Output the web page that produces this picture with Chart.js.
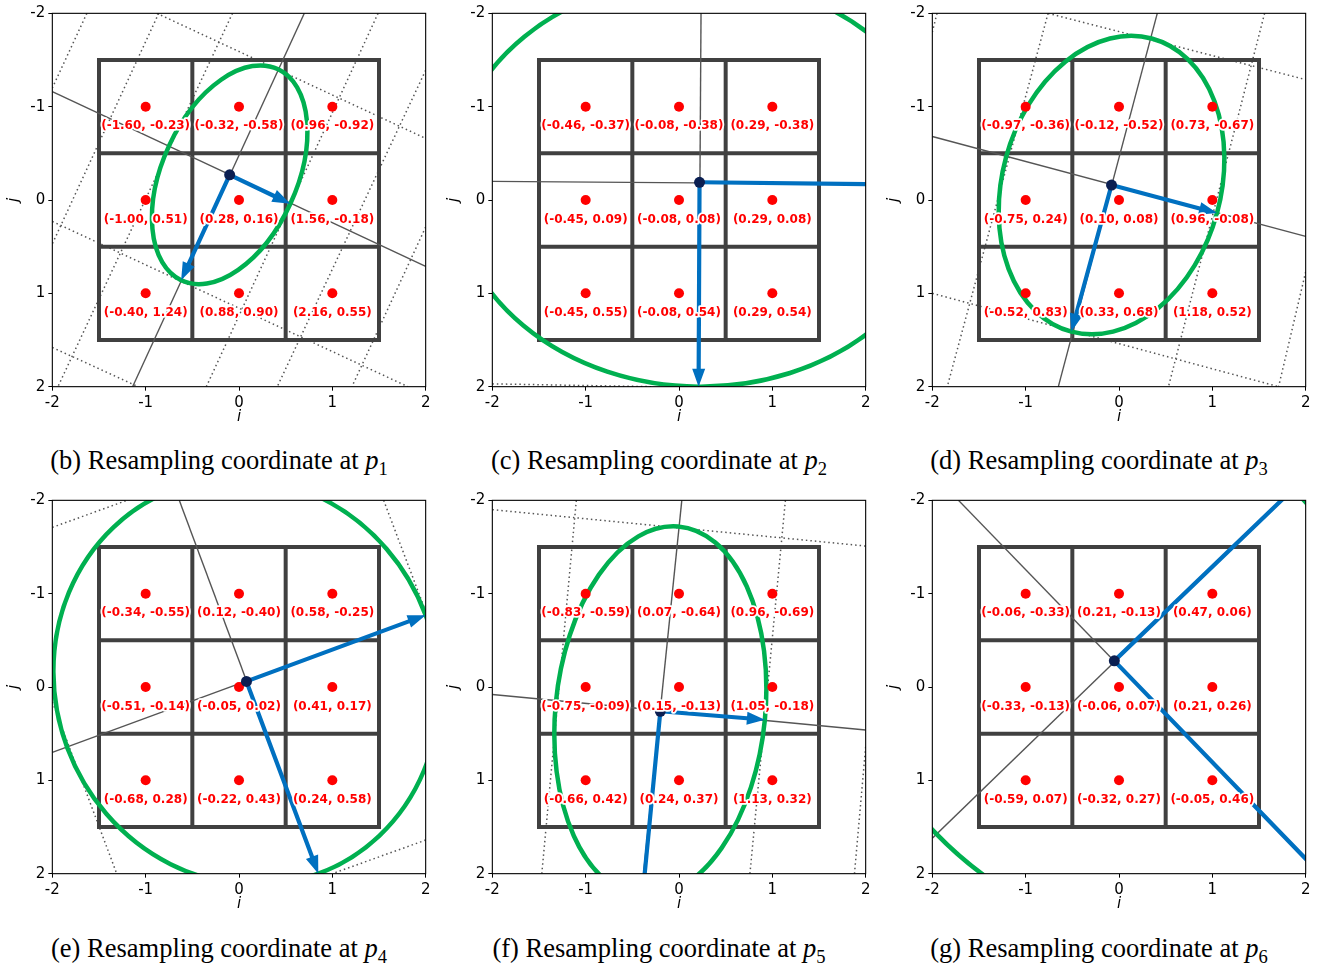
<!DOCTYPE html>
<html>
<head>
<meta charset="utf-8">
<script src="https://cdn.jsdelivr.net/npm/chart.js@4.4.0/dist/chart.umd.min.js"></script>
<style>
  body { margin: 0; background: #fff; }
  #fig { position: relative; width: 1319px; height: 966px; overflow: hidden; background: #fff; }
  .panel { position: absolute; width: 440px; height: 430px; }
  .cap { position: absolute; width: 438px; text-align: center; font-family: "Liberation Serif", "Times New Roman", serif;
         font-size: 26.5px; line-height: 30px; color: #000; white-space: nowrap; }
  .cap i { font-style: italic; }
  .cap .sub { font-size: 0.7em; position: relative; top: 0.3em; }
</style>
</head>
<body>
<div id="fig"></div>
<script>
const axisTicks = [-2, -1, 0, 1, 2];
const gridEdges = [-1.5, -0.5, 0.5, 1.5];
const pixelCentres = [-1, 0, 1];
const captionTags = ['b', 'c', 'd', 'e', 'f', 'g'];
const pointNames = ['1', '2', '3', '4', '5', '6'];

// resampled coordinates written under each pixel, row by row (j = -1, 0, 1)
const coordsP1 = [[-1.60, -0.23], [-0.32, -0.58], [0.96, -0.92], [-1.00, 0.51], [0.28, 0.16], [1.56, -0.18], [-0.40, 1.24], [0.88, 0.90], [2.16, 0.55]];
const coordsP2 = [[-0.46, -0.37], [-0.08, -0.38], [0.29, -0.38], [-0.45, 0.09], [-0.08, 0.08], [0.29, 0.08], [-0.45, 0.55], [-0.08, 0.54], [0.29, 0.54]];
const coordsP3 = [[-0.97, -0.36], [-0.12, -0.52], [0.73, -0.67], [-0.75, 0.24], [0.10, 0.08], [0.96, -0.08], [-0.52, 0.83], [0.33, 0.68], [1.18, 0.52]];
const coordsP4 = [[-0.34, -0.55], [0.12, -0.40], [0.58, -0.25], [-0.51, -0.14], [-0.05, 0.02], [0.41, 0.17], [-0.68, 0.28], [-0.22, 0.43], [0.24, 0.58]];
const coordsP5 = [[-0.83, -0.59], [0.07, -0.64], [0.96, -0.69], [-0.75, -0.09], [0.15, -0.13], [1.05, -0.18], [-0.66, 0.42], [0.24, 0.37], [1.13, 0.32]];
const coordsP6 = [[-0.06, -0.33], [0.21, -0.13], [0.47, 0.06], [-0.33, -0.13], [-0.06, 0.07], [0.21, 0.26], [-0.59, 0.07], [-0.32, 0.27], [-0.05, 0.46]];
const sampleCoords = [coordsP1, coordsP2, coordsP3, coordsP4, coordsP5, coordsP6];

// sampling point p_k and the two offset arrows
const centres    = [[-0.10, -0.27], [0.22, -0.19], [-0.08, -0.16], [0.08, -0.06], [-0.20, 0.26], [-0.05, -0.28]];
const arrowTipsA = [[0.55, 0.04], [2.95, -0.16], [1.05, 0.14], [2.00, -0.77], [0.92, 0.35], [2.00, -2.25]];
const arrowTipsB = [[-0.62, 0.86], [0.21, 2.00], [-0.51, 1.41], [0.85, 2.00], [-0.41, 2.44], [2.27, 2.12]];

// ellipse around p_k, given by two conjugate semi-diameters
const ellipseU = [[0.65, 0.31], [2.66, 0.02], [1.13, 0.30], [1.92, -0.71], [1.12, 0.09], [1.92, -1.84]];
const ellipseV = [[-0.52, 1.13], [-0.01, 2.19], [-0.43, 1.57], [0.77, 2.06], [-0.19, 1.98], [2.32, 2.40]];

// thin solid lines through p_k
const guideLines = [
  [[[-2, -1.16], [2, 0.71]], [[0.70, -2], [-1.14, 2]]],
  [[[-2, -0.20], [2, -0.17]], [[0.236, -2], [0.21, 2]]],
  [[[-2, -0.68], [2, 0.39]], [[0.41, -2], [-0.65, 2]]],
  [[[-2, 0.70], [2, -0.77]], [[-0.64, -2], [0.85, 2]]],
  [[[-2, 0.08], [2, 0.46]], [[0.03, -2], [-0.38, 2]]],
  [[[-2, 1.62], [1.74, -2]], [[-1.72, -2], [2, 1.84]]]
];

// dotted neighbour lines
const dottedLines = [
  [[[-1.63, -2], [-2, -1.20]], [[-0.86, -2], [-2, 0.47]], [[-0.07, -2], [-1.94, 2]], [[1.49, -2], [-0.35, 2]],
   [[2, -1.39], [0.41, 2]], [[2, 0.29], [1.21, 2]], [[-0.88, -2], [2, -0.66]], [[-2, 0.23], [1.81, 2]], [[-2, 1.58], [-1.08, 2]]],
  [[[-2, 1.97], [-0.30, 2.00]]],
  [[[-1.95, -2], [-2, -1.80]], [[-0.76, -2], [-1.84, 2]], [[1.56, -2], [0.53, 2]], [[2, 0.77], [1.71, 2]],
   [[-0.76, -2], [2, -1.29]], [[-2, 1.00], [1.71, 2]]],
  [[[-2, -1.71], [-1.20, -2]], [[2, 1.64], [1.00, 2]], [[-2, 0.16], [-1.31, 2]], [[1.55, -2], [2, -0.81]]],
  [[[-2, -1.90], [2, -1.51]], [[-1.10, -2], [-1.47, 2]], [[1.14, -2], [0.76, 2]], [[2, 0.64], [1.88, 2]]],
  []
];

const fig = document.getElementById('fig');
Chart.defaults.font.family = "'DejaVu Sans', sans-serif";

function drawArrow(ctx, x0, y0, x1, y1) {
  const dx = x1 - x0, dy = y1 - y0, L = Math.hypot(dx, dy);
  const ux = dx / L, uy = dy / L, nx = -uy, ny = ux;
  const hl = 18, hw = 6.5, sw = 2.1;
  const bx = x1 - ux * hl, by = y1 - uy * hl;
  ctx.beginPath();
  ctx.moveTo(x0 + nx * sw, y0 + ny * sw);
  ctx.lineTo(bx + nx * sw, by + ny * sw);
  ctx.lineTo(bx + nx * hw, by + ny * hw);
  ctx.lineTo(x1, y1);
  ctx.lineTo(bx - nx * hw, by - ny * hw);
  ctx.lineTo(bx - nx * sw, by - ny * sw);
  ctx.lineTo(x0 - nx * sw, y0 - ny * sw);
  ctx.closePath();
  ctx.fill();
}

const overlay = {
  id: 'overlay',
  afterDatasetDraw(chart, args, opts) {
    const ds = chart.data.datasets[args.index];
    const k = opts.panel;
    const xs = chart.scales.x, ys = chart.scales.y;
    const P = (x, y) => [xs.getPixelForValue(x), ys.getPixelForValue(y)];
    const ctx = chart.ctx, a = chart.chartArea;
    if (ds.label === 'ellipse') {
      const c = centres[k];
      const [cx, cy] = P(c[0], c[1]);
      const [ux, uy] = P(c[0] + ellipseU[k][0], c[1] + ellipseU[k][1]);
      const [vx, vy] = P(c[0] + ellipseV[k][0], c[1] + ellipseV[k][1]);
      ctx.save();
      ctx.beginPath();
      ctx.rect(a.left, a.top, a.right - a.left, a.bottom - a.top);
      ctx.clip();
      const m = ctx.getTransform();
      ctx.beginPath();
      ctx.transform(ux - cx, uy - cy, vx - cx, vy - cy, cx, cy);
      ctx.arc(0, 0, 1, 0, Math.PI * 2);
      ctx.setTransform(m);
      ctx.lineWidth = 4.5;
      ctx.strokeStyle = '#00b050';
      ctx.stroke();
      ctx.restore();
    } else if (ds.label === 'arrows') {
      const c = centres[k];
      const [cx, cy] = P(c[0], c[1]);
      ctx.save();
      ctx.beginPath();
      ctx.rect(a.left, a.top, a.right - a.left, a.bottom - a.top);
      ctx.clip();
      ctx.fillStyle = '#0070c0';
      [arrowTipsA[k], arrowTipsB[k]].forEach(t => {
        const [tx, ty] = P(t[0], t[1]);
        drawArrow(ctx, cx, cy, tx, ty);
      });
      ctx.restore();
    } else if (ds.label === 'labels') {
      ctx.save();
      ctx.font = "bold 12px 'DejaVu Sans'";
      ctx.textAlign = 'center';
      ctx.textBaseline = 'middle';
      ctx.lineJoin = 'round';
      ds.data.forEach((p, n) => {
        const [px, py] = P(p.x, p.y);
        const v = sampleCoords[k][n];
        const txt = '(' + v[0].toFixed(2) + ', ' + v[1].toFixed(2) + ')';
        ctx.lineWidth = 3.5;
        ctx.strokeStyle = '#fff';
        ctx.strokeText(txt, px, py + 19.5);
        ctx.fillStyle = '#ff0000';
        ctx.fillText(txt, px, py + 19.5);
      });
      ctx.restore();
    }
  },
  afterDraw(chart) {
    const ctx = chart.ctx, a = chart.chartArea;
    ctx.save();
    ctx.strokeStyle = '#000';
    ctx.lineWidth = 1.1;
    ctx.strokeRect(a.left, a.top, a.right - a.left, a.bottom - a.top);
    ctx.fillStyle = '#000';
    ctx.font = "italic 15px 'DejaVu Sans'";
    ctx.textAlign = 'center';
    ctx.textBaseline = 'middle';
    ctx.fillText('i', (a.left + a.right) / 2, a.bottom + 30);
    ctx.translate(14, (a.top + a.bottom) / 2);
    ctx.rotate(-Math.PI / 2);
    ctx.fillText('j', 0, 0);
    ctx.restore();
  }
};

function scaleOpts(reverse, fit) {
  return {
    type: 'linear', min: -2, max: 2, reverse: reverse,
    afterBuildTicks: s => { s.ticks = axisTicks.map(v => ({ value: v })); },
    afterFit: fit,
    ticks: { color: '#000', font: { size: 15 }, padding: 3, callback: v => String(v) },
    grid: { display: true, drawOnChartArea: false, drawTicks: true, tickLength: 4, color: '#000', lineWidth: 1 },
    border: { display: false }
  };
}

function buildPanel(k) {
  const col = k % 3, row = Math.floor(k / 3);
  const box = document.createElement('div');
  box.className = 'panel';
  box.style.left = (col * 440) + 'px';
  box.style.top = (row * 487) + 'px';
  const cv = document.createElement('canvas');
  cv.width = 440; cv.height = 430;
  box.appendChild(cv);
  fig.appendChild(box);

  const seg = pairs => pairs.map(([x, y]) => ({ x, y }));
  const datasets = [];
  dottedLines[k].forEach(s => datasets.push({
    data: seg(s), showLine: true, borderColor: '#555', borderWidth: 1.5, borderDash: [1.5, 3],
    pointRadius: 0, order: 10
  }));
  const lo = gridEdges[0], hi = gridEdges[gridEdges.length - 1];
  const gridStyle = { showLine: true, borderColor: '#404040', borderWidth: 4, borderCapStyle: 'square', pointRadius: 0, order: 9 };
  gridEdges.forEach(e => {
    datasets.push(Object.assign({ data: [{ x: e, y: lo }, { x: e, y: hi }] }, gridStyle));
    datasets.push(Object.assign({ data: [{ x: lo, y: e }, { x: hi, y: e }] }, gridStyle));
  });
  guideLines[k].forEach(s => datasets.push({
    data: seg(s), showLine: true, borderColor: '#555', borderWidth: 1.4, pointRadius: 0, order: 8
  }));
  const c = centres[k];
  datasets.push({ label: 'ellipse', data: [{ x: c[0], y: c[1] }], pointRadius: 0, order: 7 });
  datasets.push({ label: 'arrows', data: seg([c, arrowTipsA[k], arrowTipsB[k]]), pointRadius: 0, order: 6 });
  const grid9 = [];
  pixelCentres.forEach(j => pixelCentres.forEach(i => grid9.push({ x: i, y: j })));
  datasets.push({ data: grid9, pointRadius: 5, backgroundColor: '#ff0000', borderWidth: 0, order: 5 });
  datasets.push({ data: [{ x: c[0], y: c[1] }], pointRadius: 5.5, backgroundColor: '#0b1f52', borderWidth: 0, order: 4 });
  datasets.push({ label: 'labels', data: grid9.map(p => ({ x: p.x, y: p.y })), pointRadius: 0, order: 3 });

  new Chart(cv, {
    type: 'scatter',
    data: { datasets },
    options: {
      responsive: false,
      animation: false,
      events: [],
      layout: { padding: { left: 0, top: 13.33, right: 14.33, bottom: 3.33 } },
      plugins: { legend: { display: false }, tooltip: { enabled: false }, overlay: { panel: k } },
      scales: {
        x: scaleOpts(false, s => { s.height = 40; }),
        y: scaleOpts(true, s => { s.width = 52.33; })
      }
    },
    plugins: [overlay]
  });

  const cap = document.createElement('div');
  cap.className = 'cap';
  cap.style.left = (col * 440) + 'px';
  cap.style.top = (row === 0 ? 445 : 933) + 'px';
  cap.innerHTML = '(' + captionTags[k] + ') Resampling coordinate at <i>p</i><span class="sub">' + pointNames[k] + '</span>';
  fig.appendChild(cap);
}

for (let k = 0; k < 6; k++) buildPanel(k);
</script>
</body>
</html>
